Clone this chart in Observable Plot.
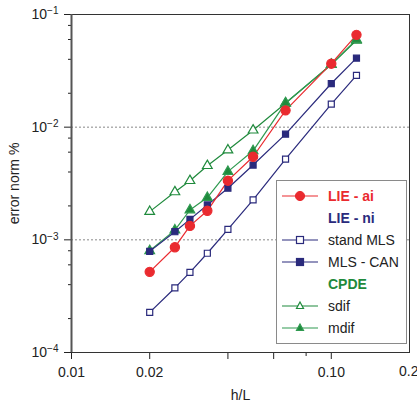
<!DOCTYPE html>
<html>
<head>
<meta charset="utf-8">
<script src="https://cdn.jsdelivr.net/npm/d3@7"></script>
<script src="https://cdn.jsdelivr.net/npm/@observablehq/plot@0.6"></script>
<style>
  body { margin: 0; background: #fff; }
  #wrap { position: relative; width: 417px; height: 406px; font-family: "Liberation Sans", Arial, sans-serif; }
  #wrap svg text { font-size: 14px !important; fill: #222; }
  #wrap svg text tspan.sup { font-size: 10px !important; }
  #legend { position: absolute; left: 276px; top: 180px; width: 131px; height: 164px; border: 1px solid #8a8a8a; background: #fff; box-sizing: border-box; }
  .row { position: absolute; left: 0; height: 22px; display: flex; align-items: center; font-size: 14px; color: #222; }
  .row svg { margin-left: 5px; margin-right: 10px; }
</style>
</head>
<body>
<div id="wrap"></div>
<script>
// h/L values
const hL = [1/50, 1/40, 1/35, 1/30, 1/25, 1/20, 1/15, 1/10, 1/8];
// error norm % per series
const lieAi    = [5.2e-4, 8.6e-4, 1.33e-3, 1.81e-3, 3.35e-3, 5.46e-3, 1.41e-2, 3.66e-2, 6.6e-2];
const standMLS = [2.27e-4, 3.74e-4, 5.14e-4, 7.6e-4, 1.24e-3, 2.26e-3, 5.2e-3, 1.6e-2, 2.88e-2];
const mlsCan   = [7.9e-4, 1.18e-3, 1.52e-3, 2.04e-3, 2.87e-3, 4.61e-3, 8.67e-3, 2.44e-2, 4.1e-2];
const sdif     = [1.78e-3, 2.66e-3, 3.35e-3, 4.55e-3, 6.26e-3, 9.4e-3, 1.63e-2, 3.6e-2, 5.9e-2];
const mdif     = [8.0e-4, 1.22e-3, 1.84e-3, 2.37e-3, 4.03e-3, 6.17e-3, 1.64e-2, 3.6e-2, 6.0e-2];

const xTicks = [0.01, 0.02, 0.04, 0.06, 0.1, 0.2];
const xTickLabels = ["0.01", "0.02", "0.04", "0.06", "0.10", "0.2"];
const xMinor = [0.08];
const yTicks = [1e-4, 1e-3, 1e-2, 1e-1];
const yTickExps = ["-4", "-3", "-2", "-1"];
const yMinor = [2e-4, 4e-4, 6e-4, 8e-4, 2e-3, 4e-3, 6e-3, 8e-3, 2e-2, 4e-2, 6e-2, 8e-2];
const gridY = [1e-3, 1e-2];

const RED = "#ea2a2f", NAVY = "#2a2a7c", GREEN = "#1f8a3c", GREEN2 = "#2f9a50";

const series = [
  {name: "sdif", vals: sdif, stroke: GREEN, symbol: "triangle", fill: "white", r: 3.6},
  {name: "mdif", vals: mdif, stroke: GREEN2, symbol: "triangle", fill: GREEN, r: 3.6},
  {name: "stand MLS", vals: standMLS, stroke: NAVY, symbol: "square", fill: "white", r: 3.4},
  {name: "MLS - CAN", vals: mlsCan, stroke: NAVY, symbol: "square", fill: NAVY, r: 3.4},
  {name: "LIE - ai", vals: lieAi, stroke: RED, symbol: "circle", fill: RED, r: 4.6}
];
const table = series.flatMap(s => s.vals.map((v, i) => ({series: s.name, x: hL[i], y: v})));

const marks = [
  Plot.ruleY(gridY, {stroke: "#888", strokeDasharray: "2,2"}),
  Plot.axisX(xMinor, {tickSize: 4, tickFormat: () => "", label: null}),
  Plot.axisX(xTicks.slice(0, 5), {tickSize: 7, tickFormat: d => xTickLabels[xTicks.indexOf(d)], tickPadding: 8,
    label: "h/L", labelAnchor: "center", labelOffset: 47, labelArrow: "none"}),
  Plot.axisX(xTicks.slice(5), {tickSize: 7, tickFormat: d => xTickLabels[xTicks.indexOf(d)], tickPadding: 7,
    textAnchor: "end", dx: 9, label: null}),
  Plot.axisY(yMinor, {tickSize: 3, tickFormat: () => "", label: null}),
  Plot.axisY(yTicks, {tickSize: 7, tickFormat: d => "10" + yTickExps[yTicks.indexOf(d)], tickPadding: 6,
    label: "error norm %", labelAnchor: "center", labelOffset: 62, labelArrow: "none"}),
  Plot.frame({stroke: "#333", strokeWidth: 1}),
  Plot.ruleX([0.01], {stroke: "#555", strokeWidth: 2})
];
for (const s of series) {
  const d = table.filter(t => t.series === s.name);
  marks.push(Plot.line(d, {x: "x", y: "y", stroke: s.stroke, strokeWidth: 1.2}));
}
for (const s of series) {
  const d = table.filter(t => t.series === s.name);
  marks.push(Plot.dot(d, {x: "x", y: "y", symbol: () => s.symbol, r: s.r, stroke: s.stroke, fill: s.fill, strokeWidth: 1.2}));
}

const chart = Plot.plot({
  width: 417, height: 406,
  marginLeft: 71, marginRight: 8, marginTop: 14, marginBottom: 54,
  style: {fontFamily: "'Liberation Sans', Arial, sans-serif", fontSize: "14px", color: "#222", background: "white"},
  x: {type: "log", domain: [0.01, 0.2]},
  y: {type: "log", domain: [1e-4, 1e-1]},
  marks
});
// render y tick labels as 10 with a superscript exponent
d3.select(chart).selectAll("text").each(function() {
  const t = this.textContent;
  const m = /^10(-\d)$/.exec(t);
  if (m) {
    const el = d3.select(this);
    el.text("10");
    el.append("tspan").attr("class", "sup").attr("dy", "-0.45em").text(m[1].replace("-", "\u2212"));
  }
});
const wrap = document.getElementById("wrap");
wrap.appendChild(chart);

// legend
const legendItems = [
  {label: "LIE - ai", color: RED, bold: true, line: RED, sym: "circle", fill: RED},
  {label: "LIE - ni", color: NAVY, bold: true},
  {label: "stand MLS", line: NAVY, sym: "square", fill: "white"},
  {label: "MLS - CAN", line: NAVY, sym: "square", fill: NAVY},
  {label: "CPDE", color: GREEN, bold: true},
  {label: "sdif", line: GREEN, sym: "triangle", fill: "white"},
  {label: "mdif", line: GREEN2, sym: "triangle", fill: GREEN}
];
const leg = document.createElement("div");
leg.id = "legend";
legendItems.forEach((it, i) => {
  const row = document.createElement("div");
  row.className = "row";
  row.style.top = (4 + i * 22) + "px";
  let sym = "";
  if (it.sym === "circle") sym = `<circle cx="18" cy="7" r="4.6" fill="${it.fill}" stroke="${it.line}"/>`;
  if (it.sym === "square") sym = `<rect x="14.5" y="3.5" width="7" height="7" fill="${it.fill}" stroke="${it.line}" stroke-width="1.2"/>`;
  if (it.sym === "triangle") sym = `<path d="M18,3 L21.5,9.5 L14.5,9.5 Z" fill="${it.fill}" stroke="${it.line}" stroke-width="1.2"/>`;
  const line = it.line ? `<line x1="0" x2="36" y1="7" y2="7" stroke="${it.line}" stroke-width="1.2"/>` : "";
  row.innerHTML = `<svg width="36" height="14">${line}${sym}</svg><span style="color:${it.color || '#222'};font-weight:${it.bold ? 'bold' : 'normal'}">${it.label}</span>`;
  leg.appendChild(row);
});
wrap.appendChild(leg);
</script>
</body>
</html>
